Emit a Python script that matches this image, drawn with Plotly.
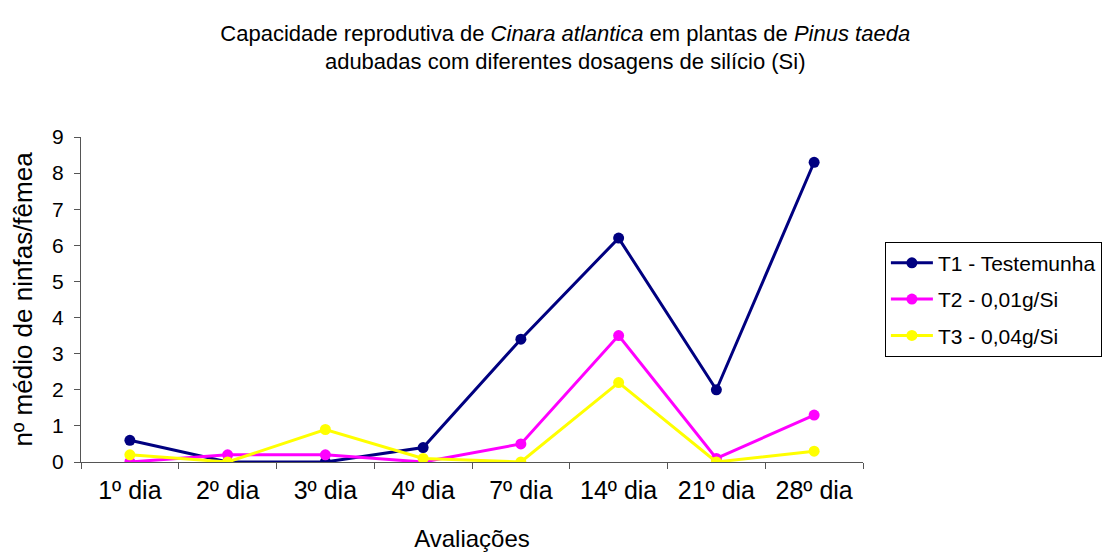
import plotly.graph_objects as go

categories = ["1º dia", "2º dia", "3º dia", "4º dia", "7º dia", "14º dia", "21º dia", "28º dia"]
t1_values = [0.6, 0.0, 0.0, 0.4, 3.4, 6.2, 2.0, 8.3]
t2_values = [0.0, 0.2, 0.2, 0.0, 0.5, 3.5, 0.1, 1.3]
t3_values = [0.2, 0.0, 0.9, 0.1, 0.0, 2.2, 0.0, 0.3]
series_names = ["T1 - Testemunha", "T2 - 0,01g/Si", "T3 - 0,04g/Si"]
series_colors = ["#000080", "#FF00FF", "#FFFF00"]
y_ticks = list(range(0, 10))

FONT = "Liberation Sans, Arial, sans-serif"

fig = go.Figure()
for i, (name, vals, col) in enumerate(zip(series_names, [t1_values, t2_values, t3_values], series_colors)):
    fig.add_trace(go.Scatter(
        x=categories, y=vals, name=name, mode="lines+markers",
        line=dict(color=col, width=3),
        marker=dict(color=col, size=11, symbol="circle"),
        legendgroup=f"g{i}",
    ))

fig.update_layout(
    width=1110, height=553,
    paper_bgcolor="white", plot_bgcolor="white",
    margin=dict(l=73, r=255, t=129, b=99, autoexpand=False),
    font=dict(family=FONT, color="black", size=20),
    title=dict(
        text="Capacidade reprodutiva de <i>Cinara atlantica</i> em plantas de <i>Pinus taeda</i><br>adubadas com diferentes dosagens de silício (Si)",
        x=0.502, xanchor="center", y=0.941, yanchor="middle",
        font=dict(family=FONT, size=22, color="black"),
    ),
    showlegend=True,
    legend=dict(
        x=1.028, xanchor="left", y=0.678, yanchor="top",
        bordercolor="black", borderwidth=1, bgcolor="white",
        font=dict(family=FONT, size=21, color="black"),
        tracegroupgap=6, traceorder="grouped",
        itemwidth=42,
    ),
)

fig.update_xaxes(
    type="category", range=[-0.5, 7.5],
    showline=True, linecolor="#555", linewidth=1,
    ticks="outside", tickson="boundaries", ticklen=6, tickcolor="#555",
    ticklabelstandoff=6,
    showgrid=False, zeroline=False,
    tickfont=dict(family=FONT, size=25, color="black"),
    title=dict(text="Avaliações", font=dict(family=FONT, size=24, color="black"), standoff=27),
)
fig.update_yaxes(
    range=[0, 9], tickvals=y_ticks,
    showline=True, linecolor="#555", linewidth=1,
    ticks="outside", ticklen=6, tickcolor="#555",
    ticklabelstandoff=6,
    showgrid=False, zeroline=False,
    tickfont=dict(family=FONT, size=21, color="black"),
    title=dict(text="nº médio de ninfas/fêmea", font=dict(family=FONT, size=26, color="black"), standoff=13),
)

fig.write_html("out.html")
